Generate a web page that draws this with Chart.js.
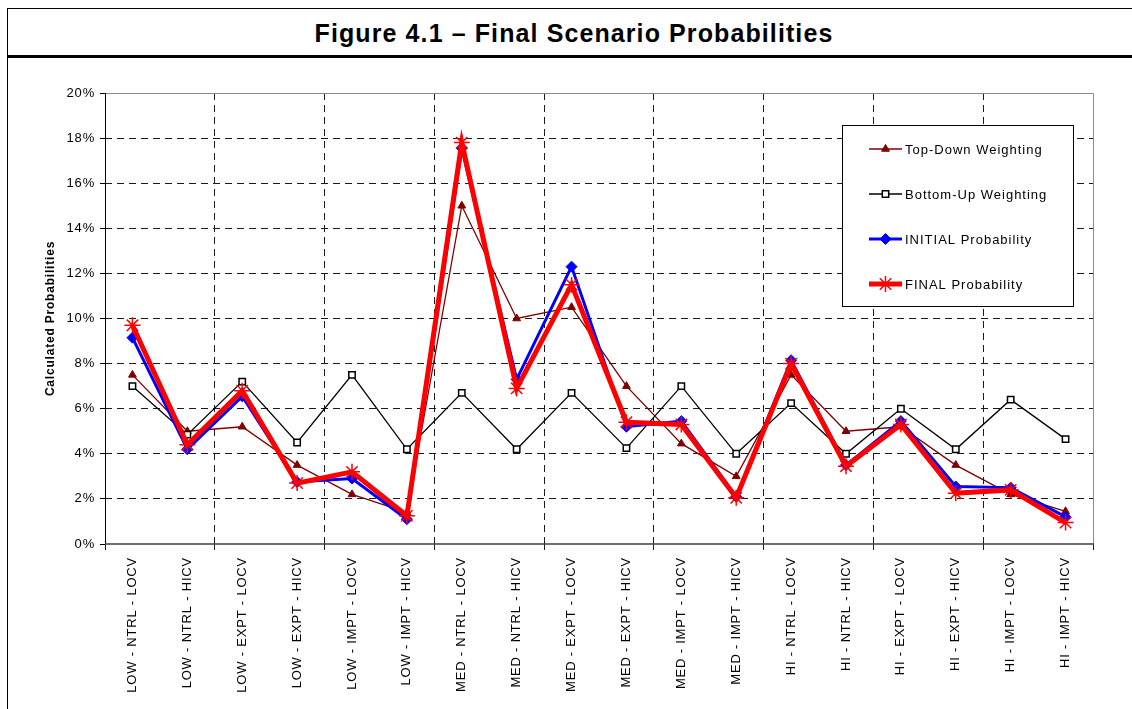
<!DOCTYPE html>
<html>
<head>
<meta charset="utf-8">
<script src="https://cdn.jsdelivr.net/npm/chart.js@4"></script>
<style>
  body { margin: 0; background: #fff; width: 1132px; height: 709px; overflow: hidden; position: relative; font-family: Arial, "Liberation Sans", sans-serif; }
  #frame { position: absolute; left: 7px; top: 8px; width: 1140px; height: 720px; border-left: 1px solid #000; border-top: 1px solid #000; }
  #title { position: absolute; left: 7px; top: 9px; width: 1134px; height: 46px; line-height: 48px; text-align: center; font-weight: bold; font-size: 25px; letter-spacing: 1.1px; color: #000; }
  #rule { position: absolute; left: 7px; top: 55px; width: 1130px; height: 3px; background: #000; }
  #chart { position: absolute; left: 0; top: 58px; }
</style>
</head>
<body>
<div id="frame"></div>
<div id="title">Figure 4.1 – Final Scenario Probabilities</div>
<div id="rule"></div>
<canvas id="chart" width="1132" height="651"></canvas>
<script>
// Scenario categories
const categories = [
  'LOW - NTRL - LOCV', 'LOW - NTRL - HICV', 'LOW - EXPT - LOCV', 'LOW - EXPT - HICV',
  'LOW - IMPT - LOCV', 'LOW - IMPT - HICV', 'MED - NTRL - LOCV', 'MED - NTRL - HICV',
  'MED - EXPT - LOCV', 'MED - EXPT - HICV', 'MED - IMPT - LOCV', 'MED - IMPT - HICV',
  'HI - NTRL - LOCV', 'HI - NTRL - HICV', 'HI - EXPT - LOCV', 'HI - EXPT - HICV',
  'HI - IMPT - LOCV', 'HI - IMPT - HICV'
];

// Series values (percent)
const topDown = [7.5, 5.0, 5.2, 3.5, 2.2, 1.4, 15.0, 10.0, 10.5, 7.0, 4.45, 3.0, 7.5, 5.0, 5.2, 3.5, 2.2, 1.45];
const bottomUp = [7.0, 4.85, 7.2, 4.5, 7.5, 4.2, 6.7, 4.2, 6.7, 4.25, 7.0, 4.0, 6.25, 4.0, 6.0, 4.2, 6.4, 4.65];
const initialProb = [9.15, 4.2, 6.55, 2.75, 2.9, 1.1, 17.55, 7.3, 12.3, 5.2, 5.45, 2.1, 8.15, 3.5, 5.45, 2.55, 2.5, 1.2];
const finalProb = [9.7, 4.4, 6.8, 2.7, 3.2, 1.25, 17.8, 6.9, 11.5, 5.4, 5.3, 2.05, 8.0, 3.45, 5.3, 2.25, 2.4, 0.95];

// Y axis range
const yMin = 0;
const yMax = 20;
const yStep = 2;

const FONT = 'Arial, "Liberation Sans", sans-serif';

// Wider text spacing, like the original rendering
const spacing = {
  id: 'spacing',
  beforeDraw(chart) { chart.ctx.letterSpacing = '0.8px'; }
};

// Axis frame lines drawn under the data
const frameLines = {
  id: 'frameLines',
  beforeDatasetsDraw(chart) {
    const { ctx, chartArea: a } = chart;
    ctx.save();
    ctx.lineWidth = 1;
    ctx.strokeStyle = '#8c8c8c';
    ctx.beginPath();
    ctx.moveTo(a.left, a.top + 0.5);
    ctx.lineTo(a.right + 0.5, a.top + 0.5);
    ctx.lineTo(a.right + 0.5, a.bottom);
    ctx.stroke();
    ctx.strokeStyle = '#000';
    ctx.beginPath();
    ctx.moveTo(a.left + 0.5, a.top);
    ctx.lineTo(a.left + 0.5, a.bottom);
    ctx.stroke();
    ctx.strokeStyle = '#404040';
    ctx.lineWidth = 1.5;
    ctx.beginPath();
    ctx.moveTo(a.left, a.bottom);
    ctx.lineTo(a.right + 1, a.bottom);
    ctx.stroke();
    ctx.restore();
  }
};

function drawMarker(ctx, ds, x, y) {
  ctx.save();
  ctx.fillStyle = ds.pointBackgroundColor;
  ctx.strokeStyle = ds.pointBorderColor;
  ctx.lineWidth = ds.pointBorderWidth;
  Chart.helpers.drawPoint(ctx, {
    pointStyle: ds.pointStyle,
    radius: ds.pointRadius,
    rotation: 0,
    borderWidth: ds.pointBorderWidth
  }, x, y);
  ctx.restore();
}

// Legend box inside the plot
const boxLegend = {
  id: 'boxLegend',
  afterDraw(chart) {
    const { ctx } = chart;
    const x0 = 842, y0 = 67, w = 231, h = 181;
    ctx.save();
    ctx.letterSpacing = '1px';
    ctx.fillStyle = '#fff';
    ctx.fillRect(x0, y0, w, h);
    ctx.strokeStyle = '#000';
    ctx.lineWidth = 1;
    ctx.strokeRect(x0 + 0.5, y0 + 0.5, w, h);
    chart.data.datasets.forEach((ds, i) => {
      const y = y0 + 24 + i * 45;
      ctx.strokeStyle = ds.borderColor;
      ctx.lineWidth = ds.borderWidth;
      ctx.beginPath();
      ctx.moveTo(869, y);
      ctx.lineTo(902, y);
      ctx.stroke();
      drawMarker(ctx, ds, 885.5, y);
      ctx.fillStyle = '#000';
      ctx.font = '13px ' + FONT;
      ctx.textBaseline = 'middle';
      ctx.textAlign = 'left';
      ctx.fillText(ds.label, 905, y + 1);
    });
    ctx.restore();
  }
};

const ctx = document.getElementById('chart').getContext('2d');
new Chart(ctx, {
  type: 'line',
  data: {
    labels: categories,
    datasets: [
      {
        label: 'Top-Down Weighting',
        data: topDown,
        borderColor: '#800000',
        borderWidth: 1.3,
        pointStyle: 'triangle',
        pointRadius: 4.5,
        pointBackgroundColor: '#800000',
        pointBorderColor: '#800000',
        pointBorderWidth: 1,
        order: 4
      },
      {
        label: 'Bottom-Up Weighting',
        data: bottomUp,
        borderColor: '#000000',
        borderWidth: 1.3,
        pointStyle: 'rect',
        pointRadius: 4.5,
        pointBackgroundColor: '#ffffff',
        pointBorderColor: '#000000',
        pointBorderWidth: 1.5,
        order: 3
      },
      {
        label: 'INITIAL Probability',
        data: initialProb,
        borderColor: '#0000ff',
        borderWidth: 3,
        pointStyle: 'rectRot',
        pointRadius: 5.5,
        pointBackgroundColor: '#0000ff',
        pointBorderColor: '#0000ff',
        pointBorderWidth: 1,
        order: 2
      },
      {
        label: 'FINAL Probability',
        data: finalProb,
        borderColor: '#ff0000',
        borderWidth: 5,
        pointStyle: 'star',
        pointRadius: 8,
        pointBackgroundColor: '#ff0000',
        pointBorderColor: '#ff0000',
        pointBorderWidth: 1.5,
        order: 1
      }
    ]
  },
  options: {
    responsive: false,
    devicePixelRatio: 1,
    animation: false,
    events: [],
    layout: { padding: { left: 0, top: 35, right: 39, bottom: 0 } },
    plugins: {
      legend: { display: false },
      tooltip: { enabled: false }
    },
    elements: { line: { tension: 0 } },
    scales: {
      x: {
        offset: true,
        grid: {
          offset: true,
          drawOnChartArea: true,
          color: (c) => (c.index !== undefined && c.index % 2 === 0 && c.index > 0) ? '#1a1a1a' : 'rgba(0,0,0,0)',
          tickColor: (c) => (c.index !== undefined && c.index % 2 === 0) || c.index === undefined ? '#1a1a1a' : 'rgba(0,0,0,0)',
          tickLength: 6,
          lineWidth: 1
        },
        border: { display: false, dash: [7, 5] },
        ticks: {
          autoSkip: false,
          maxRotation: 90,
          minRotation: 90,
          padding: 7,
          color: '#000',
          font: { family: FONT, size: 13 }
        },
        afterFit(scale) { scale.height = 165; }
      },
      y: {
        min: yMin,
        max: yMax,
        ticks: {
          stepSize: yStep,
          padding: 5,
          color: '#000',
          font: { family: FONT, size: 13 },
          callback: (v) => v + '%'
        },
        grid: {
          color: (c) => c.tick && c.tick.value === yMax ? '#8c8c8c' : (c.tick && c.tick.value === yMin ? 'rgba(0,0,0,0)' : '#1a1a1a'),
          tickColor: '#000',
          tickLength: 5,
          lineWidth: 1
        },
        border: { display: false, dash: (c) => c.tick && c.tick.value === yMax ? [] : [7, 5] },
        title: {
          display: true,
          text: 'Calculated Probabilities',
          color: '#000',
          font: { family: FONT, size: 12, weight: 'bold' },
          padding: { top: 43, bottom: 0 }
        },
        afterFit(scale) { scale.width = 105; }
      }
    }
  },
  plugins: [spacing, frameLines, boxLegend]
});
</script>
</body>
</html>
